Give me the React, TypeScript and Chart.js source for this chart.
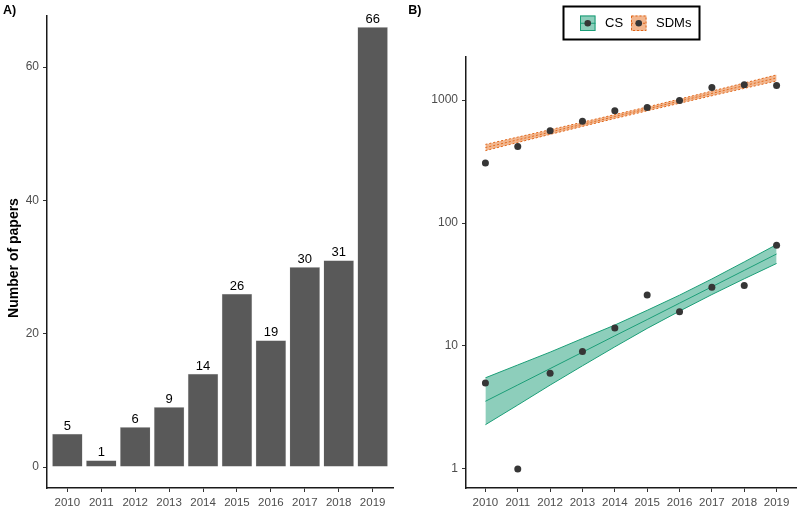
import React, { useEffect, useRef } from "react";
import { Chart, registerables } from "chart.js";

Chart.register(...registerables);

const years = [2010, 2011, 2012, 2013, 2014, 2015, 2016, 2017, 2018, 2019];
const papers = [5, 1, 6, 9, 14, 26, 19, 30, 31, 66];
const sdmCounts = [308, 420, 563, 671, 818, 872, 990, 1268, 1332, 1316];
const csFit = [3.55, 4.82, 6.55, 8.9, 12.1, 16.4, 22.3, 30.3, 41.2, 56.0];
const csLower = [2.29, 3.31, 4.81, 6.9, 9.84, 13.9, 19.2, 26.2, 35.2, 46.9];
const csUpper = [5.51, 7.01, 8.91, 11.5, 14.8, 19.5, 25.9, 35.1, 48.3, 66.8];
const sdmFit = [411, 475, 549, 635, 734, 848, 980, 1133, 1309, 1514];
const sdmLower = [388, 452, 526, 611, 708, 817, 942, 1084, 1245, 1429];
const sdmUpper = [436, 500, 574, 661, 762, 879, 1019, 1183, 1377, 1603];
const yTicksA = [0, 20, 40, 60];
const yTicksB = [1, 10, 100, 1000];
const legendLabels = ["CS", "SDMs"];

const FONT = "'Liberation Sans', Arial, sans-serif";
const GREEN = "#1b9e77";
const GREEN_FILL = "rgba(27,158,119,0.5)";
const ORANGE = "#e0661a";
const ORANGE_FILL = "rgba(230,110,30,0.5)";
const POINT = "#363636";
const TICK_TEXT = "#4d4d4d";

const xy = (vals: number[]) => vals.map((v, i) => ({ x: years[i], y: v }));

export default function App() {
  const leftRef = useRef<HTMLCanvasElement>(null);
  const rightRef = useRef<HTMLCanvasElement>(null);

  useEffect(() => {
    const barLabels = {
      id: "barLabels",
      afterDatasetsDraw(chart: any) {
        const ctx = chart.ctx;
        const meta = chart.getDatasetMeta(0);
        ctx.save();
        ctx.fillStyle = "#000";
        ctx.font = `13px ${FONT}`;
        ctx.textAlign = "center";
        ctx.textBaseline = "alphabetic";
        meta.data.forEach((bar: any, i: number) => {
          ctx.fillText(String(papers[i]), bar.x, bar.y - 4);
        });
        ctx.restore();
      },
      afterDraw(chart: any) {
        const ctx = chart.ctx;
        ctx.save();
        ctx.fillStyle = "#000";
        ctx.font = `bold 12.5px ${FONT}`;
        ctx.textAlign = "left";
        ctx.textBaseline = "alphabetic";
        ctx.fillText("A)", 3, 13.5);
        ctx.translate(14.5, 258);
        ctx.rotate(-Math.PI / 2);
        ctx.textAlign = "center";
        ctx.textBaseline = "middle";
        ctx.font = `bold 14px ${FONT}`;
        ctx.fillText("Number of papers", 0, 0);
        ctx.restore();
      },
    };

    const left = new Chart(leftRef.current!, {
      type: "bar",
      data: {
        datasets: [
          {
            data: xy(papers),
            backgroundColor: "#595959",
            borderColor: "#d9d9d9",
            borderWidth: 0.5,
            barPercentage: 0.9,
            categoryPercentage: 1,
          } as any,
        ],
      },
      options: {
        responsive: false,
        animation: false,
        devicePixelRatio: 1,
        layout: { padding: { top: 16, right: 12, left: 0, bottom: 0 } },
        plugins: { legend: { display: false }, tooltip: { enabled: false } },
        scales: {
          x: {
            type: "linear",
            offset: false,
            min: 2009.4,
            max: 2019.6,
            afterBuildTicks: (s: any) => {
              s.ticks = years.map((v) => ({ value: v }));
            },
            afterFit: (s: any) => {
              s.height = 21;
            },
            ticks: {
              autoSkip: false,
              maxRotation: 0,
              padding: 4,
              color: TICK_TEXT,
              font: { family: FONT, size: 11.5 },
              callback: (v: any) => String(v),
            },
            grid: { offset: false, drawOnChartArea: false, drawTicks: true, tickLength: 4, color: "#333" },
            border: { display: true, color: "#1a1a1a", width: 1.5 },
          },
          y: {
            type: "linear",
            min: -3.15,
            max: 67.65,
            afterBuildTicks: (s: any) => {
              s.ticks = yTicksA.map((v) => ({ value: v }));
            },
            afterFit: (s: any) => {
              s.width = 47;
            },
            ticks: {
              padding: 4,
              color: TICK_TEXT,
              font: { family: FONT, size: 12 },
              callback: (v: any) => String(v),
            },
            grid: { drawOnChartArea: false, drawTicks: true, tickLength: 4, color: "#333" },
            border: { display: true, color: "#1a1a1a", width: 1.5 },
          },
        },
      } as any,
      plugins: [barLabels],
    });

    const legendPlugin = {
      id: "customLegend",
      afterDraw(chart: any) {
        const ctx = chart.ctx;
        ctx.save();
        ctx.fillStyle = "#000";
        ctx.font = `bold 12.5px ${FONT}`;
        ctx.textAlign = "left";
        ctx.textBaseline = "alphabetic";
        ctx.fillText("B)", 3.3, 13.5);

        ctx.strokeStyle = "#000";
        ctx.lineWidth = 2;
        ctx.strokeRect(158.5, 6.5, 136, 33);

        const k1x = 175, ky = 15.5, ks = 15.5;
        ctx.fillStyle = GREEN_FILL;
        ctx.fillRect(k1x, ky, ks, ks);
        ctx.strokeStyle = GREEN;
        ctx.lineWidth = 1;
        ctx.strokeRect(k1x + 0.5, ky + 0.5, ks - 1, ks - 1);
        ctx.beginPath();
        ctx.moveTo(k1x, ky + ks / 2);
        ctx.lineTo(k1x + ks, ky + ks / 2);
        ctx.stroke();
        ctx.fillStyle = POINT;
        ctx.beginPath();
        ctx.arc(k1x + ks / 2, ky + ks / 2, 3.3, 0, Math.PI * 2);
        ctx.fill();

        const k2x = 226;
        ctx.fillStyle = ORANGE_FILL;
        ctx.fillRect(k2x, ky, ks, ks);
        ctx.strokeStyle = ORANGE;
        ctx.setLineDash([2, 2]);
        ctx.strokeRect(k2x + 0.5, ky + 0.5, ks - 1, ks - 1);
        ctx.beginPath();
        ctx.moveTo(k2x, ky + ks / 2);
        ctx.lineTo(k2x + ks, ky + ks / 2);
        ctx.stroke();
        ctx.setLineDash([]);
        ctx.fillStyle = POINT;
        ctx.beginPath();
        ctx.arc(k2x + ks / 2, ky + ks / 2, 3.3, 0, Math.PI * 2);
        ctx.fill();

        ctx.fillStyle = "#000";
        ctx.font = `13px ${FONT}`;
        ctx.textBaseline = "middle";
        ctx.fillText(legendLabels[0], 200, 23.5);
        ctx.fillText(legendLabels[1], 251, 23.5);
        ctx.restore();
      },
    };

    const lineDs = (data: number[], color: string, dash: number[], fill: any, bg: string) => ({
      type: "line",
      data: xy(data),
      borderColor: color,
      borderWidth: 1,
      borderDash: dash,
      pointRadius: 0,
      fill,
      backgroundColor: bg,
      tension: 0,
    });

    const right = new Chart(rightRef.current!, {
      type: "line",
      data: {
        datasets: [
          {
            type: "scatter",
            data: xy(papers),
            pointRadius: 3.5,
            pointBackgroundColor: POINT,
            pointBorderWidth: 0,
            showLine: false,
          },
          {
            type: "scatter",
            data: xy(sdmCounts),
            pointRadius: 3.5,
            pointBackgroundColor: POINT,
            pointBorderWidth: 0,
            showLine: false,
          },
          lineDs(csLower, GREEN, [], false, "transparent"),
          lineDs(csUpper, GREEN, [], 2, GREEN_FILL),
          lineDs(csFit, GREEN, [], false, "transparent"),
          lineDs(sdmLower, ORANGE, [2, 2], false, "transparent"),
          lineDs(sdmUpper, ORANGE, [2, 2], 5, ORANGE_FILL),
          lineDs(sdmFit, ORANGE, [2, 2], false, "transparent"),
        ] as any,
      },
      options: {
        responsive: false,
        animation: false,
        devicePixelRatio: 1,
        layout: { padding: { top: 57, right: 3, left: 0, bottom: 0 } },
        plugins: { legend: { display: false }, tooltip: { enabled: false } },
        scales: {
          x: {
            type: "linear",
            offset: false,
            min: 2009.4,
            max: 2019.6,
            afterBuildTicks: (s: any) => {
              s.ticks = years.map((v) => ({ value: v }));
            },
            afterFit: (s: any) => {
              s.height = 21;
            },
            ticks: {
              autoSkip: false,
              maxRotation: 0,
              padding: 4,
              color: TICK_TEXT,
              font: { family: FONT, size: 11.5 },
              callback: (v: any) => String(v),
            },
            grid: { drawOnChartArea: false, drawTicks: true, tickLength: 4, color: "#333" },
            border: { display: true, color: "#1a1a1a", width: 1.5 },
          },
          y: {
            type: "logarithmic",
            min: 0.705,
            max: 2240,
            afterBuildTicks: (s: any) => {
              s.ticks = yTicksB.map((v) => ({ value: v }));
            },
            afterFit: (s: any) => {
              s.width = 61;
            },
            ticks: {
              padding: 4,
              color: TICK_TEXT,
              font: { family: FONT, size: 12 },
              callback: (v: any) => String(v),
            },
            grid: { drawOnChartArea: false, drawTicks: true, tickLength: 4, color: "#333" },
            border: { display: true, color: "#1a1a1a", width: 1.5 },
          },
        },
      } as any,
      plugins: [legendPlugin],
    });

    return () => {
      left.destroy();
      right.destroy();
    };
  }, []);

  return (
    <div style={{ position: "absolute", left: 0, top: 0, width: 800, height: 509, background: "#fff" }}>
      <canvas ref={leftRef} width={405} height={509} style={{ position: "absolute", left: 0, top: 0, width: 405, height: 509 }} />
      <canvas ref={rightRef} width={395} height={509} style={{ position: "absolute", left: 405, top: 0, width: 395, height: 509 }} />
    </div>
  );
}
